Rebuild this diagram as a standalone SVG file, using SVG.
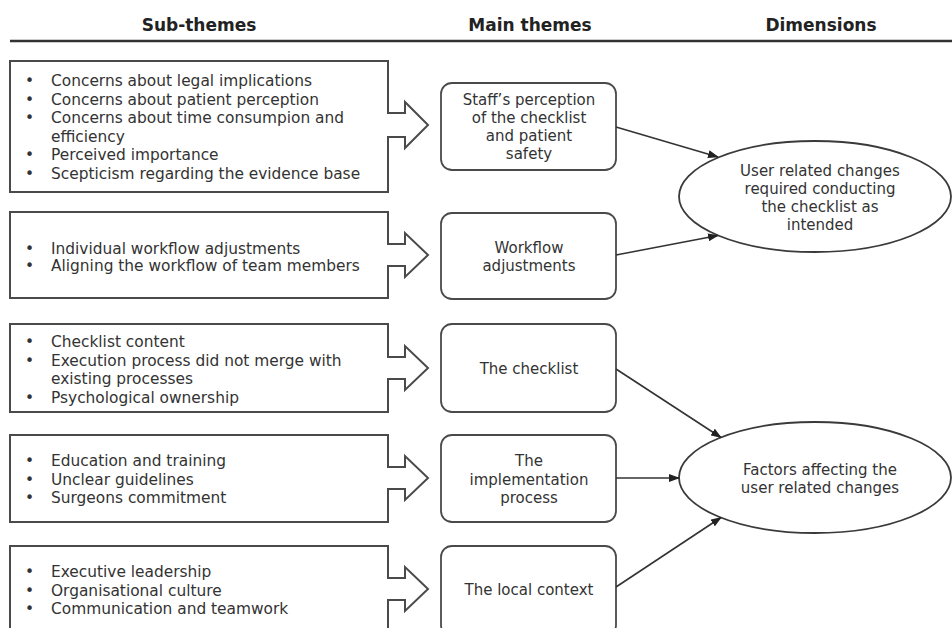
<svg xmlns="http://www.w3.org/2000/svg" width="952" height="628" viewBox="0 0 952 628">
<style>
.hdr{font-family:"DejaVu Sans","Verdana",sans-serif;font-weight:bold;font-size:17px;fill:#222;text-anchor:middle}
.t{font-family:"DejaVu Sans","Verdana",sans-serif;font-size:15px;fill:#333}
.s{font-size:15.4px}
.c{text-anchor:middle}
.sub{fill:#fff;stroke:#4a4a4a;stroke-width:2}
.main{fill:#fff;stroke:#4a4a4a;stroke-width:1.8}
.dim{fill:#fff;stroke:#3a3a3a;stroke-width:1.8}
.conn{fill:none;stroke:#333;stroke-width:1.6}
</style>
<defs>
<marker id="ah" markerWidth="11" markerHeight="8" refX="10" refY="4" orient="auto" markerUnits="userSpaceOnUse">
<path d="M0,0 L11,4 L0,8 Z" fill="#222"/>
</marker>
</defs>
<rect width="952" height="628" fill="#fff"/>
<g id="header">
<text class="hdr" x="199" y="31">Sub-themes</text>
<text class="hdr" x="530" y="31">Main themes</text>
<text class="hdr" x="821" y="31">Dimensions</text>
<line x1="10" y1="41" x2="952" y2="41" stroke="#333" stroke-width="2.6"/>
</g>

<g id="sub1">
<path class="sub" d="M10,61 H388 V113 H405 V102 L428,125 L405,148 V137 H388 V192 H10 Z"/>
<text class="t s" x="25" y="86">•</text><text class="t s" x="51" y="86">Concerns about legal implications</text>
<text class="t s" x="25" y="104.5">•</text><text class="t s" x="51" y="104.5">Concerns about patient perception</text>
<text class="t s" x="25" y="123">•</text><text class="t s" x="51" y="123">Concerns about time consumpion and</text>
<text class="t s" x="51" y="141.5">efficiency</text>
<text class="t s" x="25" y="160">•</text><text class="t s" x="51" y="160">Perceived importance</text>
<text class="t s" x="25" y="178.5">•</text><text class="t s" x="51" y="178.5">Scepticism regarding the evidence base</text>
</g>

<g id="sub2">
<path class="sub" d="M10,212 H388 V244 H405 V233 L428,255 L405,277 V266 H388 V298 H10 Z"/>
<text class="t s" x="25" y="253.5">•</text><text class="t s" x="51" y="253.5">Individual workflow adjustments</text>
<text class="t s" x="25" y="271">•</text><text class="t s" x="51" y="271">Aligning the workflow of team members</text>
</g>

<g id="sub3">
<path class="sub" d="M10,324 H388 V357 H405 V346 L428,368 L405,390 V379 H388 V412 H10 Z"/>
<text class="t s" x="25" y="347">•</text><text class="t s" x="51" y="347">Checklist content</text>
<text class="t s" x="25" y="365.5">•</text><text class="t s" x="51" y="365.5">Execution process did not merge with</text>
<text class="t s" x="51" y="384">existing processes</text>
<text class="t s" x="25" y="402.5">•</text><text class="t s" x="51" y="402.5">Psychological ownership</text>
</g>

<g id="sub4">
<path class="sub" d="M10,435 H388 V467 H405 V456 L428,478 L405,500 V489 H388 V522 H10 Z"/>
<text class="t s" x="25" y="466">•</text><text class="t s" x="51" y="466">Education and training</text>
<text class="t s" x="25" y="484.5">•</text><text class="t s" x="51" y="484.5">Unclear guidelines</text>
<text class="t s" x="25" y="503">•</text><text class="t s" x="51" y="503">Surgeons commitment</text>
</g>

<g id="sub5">
<path class="sub" d="M10,546 H388 V578 H405 V567 L428,589 L405,611 V600 H388 V636 H10 Z"/>
<text class="t s" x="25" y="577">•</text><text class="t s" x="51" y="577">Executive leadership</text>
<text class="t s" x="25" y="595.5">•</text><text class="t s" x="51" y="595.5">Organisational culture</text>
<text class="t s" x="25" y="614">•</text><text class="t s" x="51" y="614">Communication and teamwork</text>
</g>

<g id="main1">
<rect class="main" x="441" y="83" width="175" height="87" rx="11"/>
<text class="t c" x="529" y="105">Staff’s perception</text>
<text class="t c" x="529" y="123">of the checklist</text>
<text class="t c" x="529" y="141">and patient</text>
<text class="t c" x="529" y="159">safety</text>
</g>

<g id="main2">
<rect class="main" x="441" y="213" width="175" height="86" rx="11"/>
<text class="t c" x="529" y="252.5">Workflow</text>
<text class="t c" x="529" y="270.5">adjustments</text>
</g>

<g id="main3">
<rect class="main" x="441" y="324" width="175" height="88" rx="11"/>
<text class="t c" x="529" y="374">The checklist</text>
</g>

<g id="main4">
<rect class="main" x="441" y="435" width="175" height="87" rx="11"/>
<text class="t c" x="529" y="466">The</text>
<text class="t c" x="529" y="484.5">implementation</text>
<text class="t c" x="529" y="503">process</text>
</g>

<g id="main5">
<rect class="main" x="441" y="546" width="175" height="90" rx="11"/>
<text class="t c" x="529" y="595">The local context</text>
</g>

<g id="dim1">
<ellipse class="dim" cx="815" cy="196.5" rx="136" ry="55.5"/>
<text class="t c" x="820" y="175.5">User related changes</text>
<text class="t c" x="820" y="193.5">required conducting</text>
<text class="t c" x="820" y="211.5">the checklist as</text>
<text class="t c" x="820" y="229.5">intended</text>
</g>

<g id="dim2">
<ellipse class="dim" cx="815" cy="477.5" rx="136" ry="55.5"/>
<text class="t c" x="820" y="475">Factors affecting the</text>
<text class="t c" x="820" y="493">user related changes</text>
</g>

<g id="connectors">
<line class="conn" x1="616" y1="127" x2="718" y2="157" marker-end="url(#ah)"/>
<line class="conn" x1="616" y1="255" x2="718" y2="235.5" marker-end="url(#ah)"/>
<line class="conn" x1="616" y1="369" x2="721" y2="437.5" marker-end="url(#ah)"/>
<line class="conn" x1="616" y1="478" x2="679" y2="478" marker-end="url(#ah)"/>
<line class="conn" x1="616" y1="587" x2="721" y2="517.5" marker-end="url(#ah)"/>
</g>
</svg>
